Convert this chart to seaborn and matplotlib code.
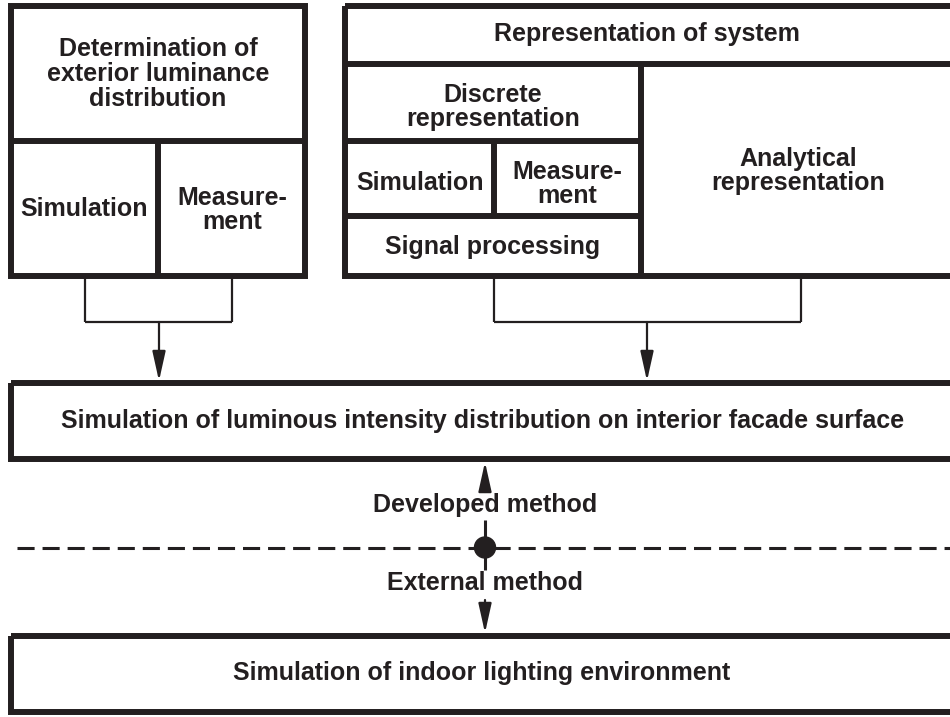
import matplotlib
matplotlib.use("Agg")
import matplotlib.pyplot as plt
import seaborn as sns
from matplotlib.patches import Rectangle, Circle

sns.set_theme(style="white")
plt.rcParams['font.family'] = ['Liberation Sans', 'DejaVu Sans']

INK = '#231f20'

# ---- texts (data) ----
left_labels = ["Determination of\nexterior luminance\ndistribution", "Simulation", "Measure-\nment"]
right_labels = ["Representation of system", "Discrete\nrepresentation", "Simulation",
                "Measure-\nment", "Signal processing", "Analytical\nrepresentation"]
middle_label = "Simulation of luminous intensity distribution on interior facade surface"
bottom_label = "Simulation of indoor lighting environment"
method_labels = ["Developed method", "External method"]

fig = plt.figure(figsize=(9.5, 7.17), dpi=100)
ax = fig.add_axes([0, 0, 1, 1])
ax.set_xlim(0, 950)
ax.set_ylim(717, 0)
ax.axis('off')

LW = 4.3
FS = 18


def box(x0, y0, x1, y1):
    ax.add_patch(Rectangle((x0, y0), x1 - x0, y1 - y0, fill=False, edgecolor=INK,
                           linewidth=LW, joinstyle='miter'))


def hline(y, x0, x1, lw=LW):
    ax.plot([x0, x1], [y, y], color=INK, lw=lw, solid_capstyle='butt')


def vline(x, y0, y1, lw=LW):
    ax.plot([x, x], [y0, y1], color=INK, lw=lw, solid_capstyle='butt')


def txt(x, y, s, fs=FS):
    ax.text(x, y, s, ha='center', va='center', fontsize=fs, fontweight='bold',
            color=INK, linespacing=1.05)


# left block
box(11, 5.5, 305, 276)
hline(141, 11, 305)
vline(158, 141, 276)
txt(158, 74, left_labels[0])
txt(84, 209, left_labels[1])
txt(232, 210, left_labels[2])

# right block
box(345, 5.5, 960, 276)
hline(64, 345, 960)
vline(641, 64, 276)
hline(141, 345, 641)
hline(216, 345, 641)
vline(494, 141, 216)
txt(647, 34, right_labels[0])
txt(493, 107, right_labels[1])
txt(420, 183, right_labels[2])
txt(567, 184, right_labels[3])
txt(493, 247, right_labels[4])
txt(798, 171, right_labels[5])

# brackets + arrows
BL = 1.6
arrow_props = dict(arrowstyle='-|>,head_length=0.9,head_width=0.2', color=INK,
                   lw=1.6, shrinkA=0, shrinkB=0, mutation_scale=20)
vline(85, 276, 322, BL); vline(232, 276, 322, BL); hline(322, 85, 232, BL)
ax.annotate('', xy=(159, 381), xytext=(159, 322), arrowprops=arrow_props)
vline(494, 276, 322, BL); vline(801, 276, 322, BL); hline(322, 494, 801, BL)
ax.annotate('', xy=(647, 381), xytext=(647, 322), arrowprops=arrow_props)

# middle box
box(11, 383, 960, 459)
txt(483, 421, middle_label)

# methods
ax.annotate('', xy=(485, 462), xytext=(485, 492), arrowprops=arrow_props)
txt(485, 505, method_labels[0])
vline(485, 520, 570, 2.2)
ax.plot([17, 950], [547.5, 547.5], color=INK, lw=2.2, dashes=(5.6, 2.6),
        dash_capstyle='butt', zorder=1)
ax.add_patch(Circle((485, 547.5), 10.5, color=INK, zorder=3))
txt(485, 583, method_labels[1])
ax.annotate('', xy=(485, 633), xytext=(485, 600), arrowprops=arrow_props)

# bottom box
box(11, 636, 960, 712)
txt(482, 673, bottom_label)

fig.savefig('out.png', dpi=100, facecolor='white')
